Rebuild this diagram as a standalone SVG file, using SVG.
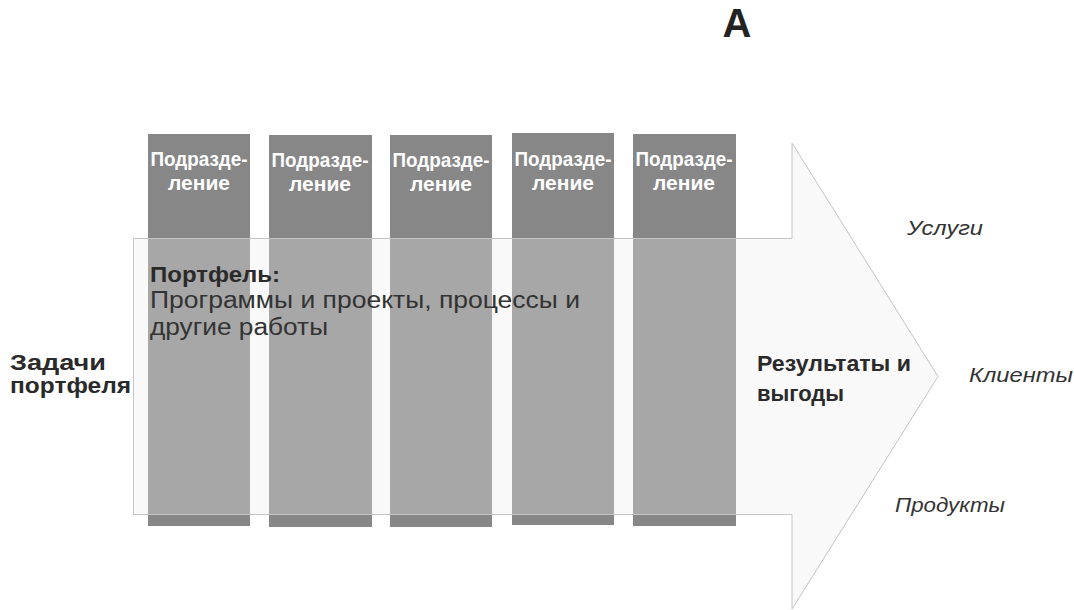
<svg xmlns="http://www.w3.org/2000/svg" width="1074" height="610" viewBox="0 0 1074 610">
  <style>
    .col { fill: #878787; }
    .col-label { font-family: "Liberation Sans", Arial, sans-serif; font-weight: bold; font-size: 20px; fill: #ffffff; text-anchor: middle; }
    .bold { font-family: "Liberation Sans", Arial, sans-serif; font-weight: bold; font-size: 22px; fill: #2a2a2a; }
    .plain { font-family: "Liberation Sans", Arial, sans-serif; font-size: 23px; fill: #333333; }
    .side { font-family: "Liberation Sans", Arial, sans-serif; font-style: italic; font-size: 21px; fill: #333333; }
    .arrow { fill: #ececec; fill-opacity: 0.32; stroke: #c4c4c4; stroke-width: 1; }
  </style>
  <rect x="0" y="0" width="1074" height="610" fill="#ffffff"/>

  <!-- title letter -->
  <text x="737" y="37" font-family="Liberation Sans, Arial, sans-serif" font-weight="bold" font-size="40" fill="#222222" text-anchor="middle">А</text>

  <!-- organisational units (columns) -->
  <g id="unit1">
    <rect class="col" x="148" y="134" width="102" height="392"/>
    <text class="col-label" x="199" y="166" textLength="97" lengthAdjust="spacingAndGlyphs">Подразде-</text>
    <text class="col-label" x="199" y="190" textLength="62" lengthAdjust="spacingAndGlyphs">ление</text>
  </g>
  <g id="unit2">
    <rect class="col" x="269" y="135" width="103" height="392"/>
    <text class="col-label" x="320" y="167" textLength="97" lengthAdjust="spacingAndGlyphs">Подразде-</text>
    <text class="col-label" x="320" y="191" textLength="62" lengthAdjust="spacingAndGlyphs">ление</text>
  </g>
  <g id="unit3">
    <rect class="col" x="390" y="135" width="102" height="392"/>
    <text class="col-label" x="441" y="167" textLength="97" lengthAdjust="spacingAndGlyphs">Подразде-</text>
    <text class="col-label" x="441" y="191" textLength="62" lengthAdjust="spacingAndGlyphs">ление</text>
  </g>
  <g id="unit4">
    <rect class="col" x="512" y="133" width="102" height="392"/>
    <text class="col-label" x="563" y="166" textLength="97" lengthAdjust="spacingAndGlyphs">Подразде-</text>
    <text class="col-label" x="563" y="190" textLength="62" lengthAdjust="spacingAndGlyphs">ление</text>
  </g>
  <g id="unit5">
    <rect class="col" x="633" y="134" width="103" height="392"/>
    <text class="col-label" x="684" y="166" textLength="97" lengthAdjust="spacingAndGlyphs">Подразде-</text>
    <text class="col-label" x="684" y="190" textLength="62" lengthAdjust="spacingAndGlyphs">ление</text>
  </g>

  <!-- big portfolio arrow, translucent over the columns -->
  <g id="connectors">
    <path id="portfolio-arrow" class="arrow" d="M133.5,238.5 L792,238.5 L792,143 L938,376.5 L792,609 L792,514.5 L133.5,514.5 Z"/>
  </g>

  <g id="portfolio">
    <text class="bold" x="150" y="282" textLength="130" lengthAdjust="spacingAndGlyphs">Портфель:</text>
    <text class="plain" x="150" y="308" textLength="430" lengthAdjust="spacingAndGlyphs">Программы и проекты, процессы и</text>
    <text class="plain" x="150" y="335" textLength="178" lengthAdjust="spacingAndGlyphs">другие работы</text>
  </g>

  <g id="goals">
    <text class="bold" x="10" y="370" textLength="96" lengthAdjust="spacingAndGlyphs">Задачи</text>
    <text class="bold" x="10" y="393" textLength="121" lengthAdjust="spacingAndGlyphs">портфеля</text>
  </g>

  <g id="results">
    <text class="bold" x="757" y="371" textLength="154" lengthAdjust="spacingAndGlyphs">Результаты и</text>
    <text class="bold" x="757" y="401" textLength="87" lengthAdjust="spacingAndGlyphs">выгоды</text>
  </g>

  <g id="services">
    <text class="side" x="907" y="235" textLength="76" lengthAdjust="spacingAndGlyphs">Услуги</text>
  </g>
  <g id="clients">
    <text class="side" x="969" y="382" textLength="104" lengthAdjust="spacingAndGlyphs">Клиенты</text>
  </g>
  <g id="products">
    <text class="side" x="895" y="512" textLength="110" lengthAdjust="spacingAndGlyphs">Продукты</text>
  </g>
</svg>
